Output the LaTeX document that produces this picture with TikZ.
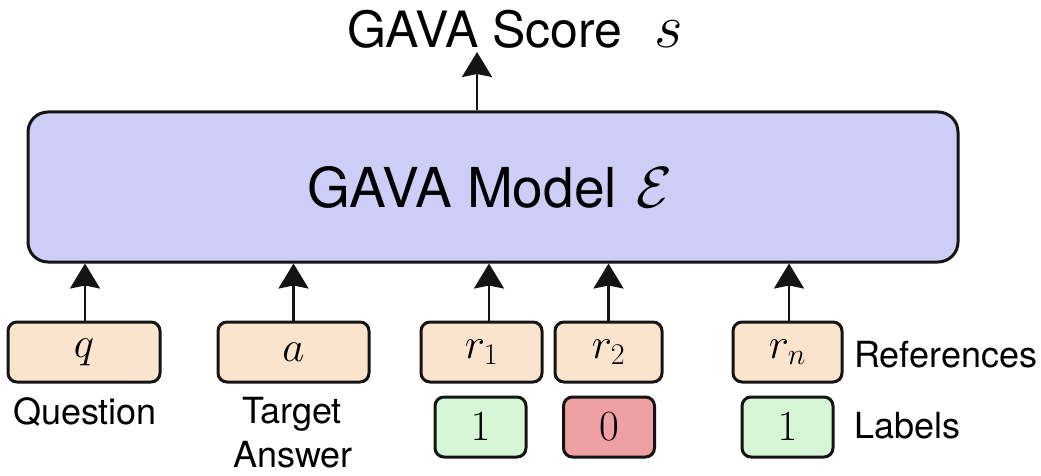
\RequirePackage{fix-cm}
\documentclass[tikz,border=0pt]{standalone}
\usepackage{fontspec}
\setsansfont{TeX Gyre Heros}
\usetikzlibrary{arrows.meta}
\definecolor{modelfill}{RGB}{205,205,247}
\definecolor{inpfill}{RGB}{250,228,206}
\definecolor{goodfill}{RGB}{214,246,214}
\definecolor{badfill}{RGB}{238,160,162}
\definecolor{edge}{RGB}{20,20,20}
\tikzset{
  modelbox/.style={draw=edge, line width=3pt, fill=modelfill, rounded corners=20pt,
    minimum width=930pt, minimum height=150pt, inner sep=0pt},
  inbox/.style={draw=edge, line width=3pt, fill=inpfill, rounded corners=9pt,
    minimum height=60pt, inner sep=0pt, font=\fontsize{43}{50}\selectfont},
  lab/.style={draw=edge, line width=3pt, rounded corners=9pt,
    minimum width=91pt, minimum height=60pt, inner sep=0pt, font=\fontsize{43}{50}\selectfont},
  txt/.style={font=\sffamily\fontsize{36}{44}\selectfont, inner sep=0pt, align=center},
  arr/.style={line width=2.5pt, draw=edge, -{Stealth[length=25pt,width=30pt,inset=3pt]}}
}
\begin{document}
\begin{tikzpicture}[x=1pt,y=-1pt]
\useasboundingbox[fill=white] (0,0) rectangle (1041,476);
\node[modelbox] (model) at (493,187) {};
\node[font=\sffamily\fontsize{55}{60}\selectfont, inner sep=0pt, anchor=base west] (modeltxt) at (307,207) {GAVA Model\hspace{20pt}{\fontsize{58}{60}\selectfont$\mathcal{E}$}};
\node[font=\sffamily\fontsize{50}{60}\selectfont, inner sep=0pt, anchor=base west] (score) at (347,48) {GAVA Score\hspace{32pt}{\fontsize{62}{64}\selectfont$s$}};
\coordinate (stip) at (477,52);
\draw[arr] (stip |- model.north) -- (stip);

\node[inbox, minimum width=152pt] (q) at (84,352) {$q$};
\node[inbox, minimum width=151pt] (a) at (293.5,352) {$a$};
\node[inbox, minimum width=121pt] (r1) at (481.5,352) {$r_1$};
\node[inbox, minimum width=107pt] (r2) at (608.5,352) {$r_2$};
\node[inbox, minimum width=109pt] (rn) at (787.5,352) {$r_n$};

\draw[arr] ([xshift=1pt]q.north) -- ([xshift=1pt]q.north |- model.south);
\draw[arr] (a.north) -- (a.north |- model.south);
\draw[arr] ([xshift=7.5pt]r1.north) -- ([xshift=7.5pt]r1.north |- model.south);
\draw[arr] (r2.north) -- (r2.north |- model.south);
\draw[arr] ([xshift=1.5pt]rn.north) -- ([xshift=1.5pt]rn.north |- model.south);

\node[lab, fill=goodfill] (l1) at (480.5,427) {$1$};
\node[lab, fill=badfill] (l2) at (609,427) {$0$};
\node[lab, fill=goodfill] (l3) at (787.5,427) {$1$};

\node[txt, anchor=base] (qlab) at (85,424) {Question};
\node[txt, anchor=base] (alab1) at (292,423) {Target};
\node[txt, anchor=base] (alab2) at (293,467) {Answer};
\node[txt, anchor=base west] (reflab) at (854,367) {References};
\node[txt, anchor=base west] (labslab) at (854,438) {Labels};
\end{tikzpicture}
\end{document}
